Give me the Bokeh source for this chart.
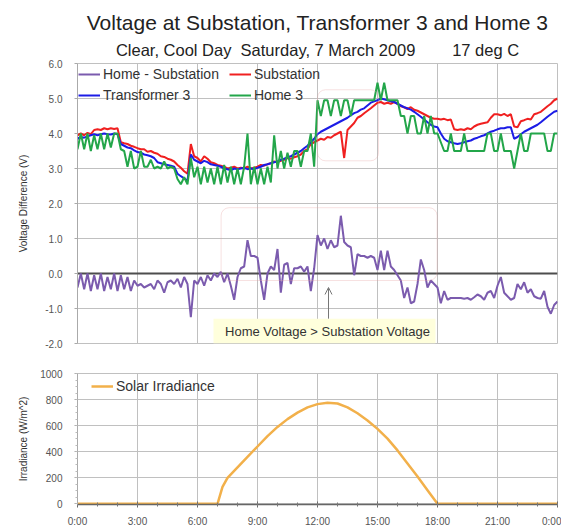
from bokeh.plotting import figure
from bokeh.layouts import column
from bokeh.models import (Range1d, FixedTicker, PrintfTickFormatter, Span, BoxAnnotation,
                          Label, Arrow, OpenHead, Legend, LegendItem, Title)
from bokeh.embed import file_html
from bokeh.resources import INLINE

# ---------------- data ----------------
title_text = "Voltage at Substation, Transformer 3 and Home 3"
subtitle_text = "Clear, Cool Day\u00a0\u00a0Saturday, 7 March 2009\u00a0\u00a0\u00a0\u00a0\u00a0\u00a0\u00a0\u00a017 deg C"

hours = [i / 6 for i in range(145)]  # 10-minute samples, 0:00 .. 24:00

substation = [
    3.95, 4.00, 3.95, 4.02, 3.98, 4.10,
    4.12, 4.10, 4.15, 4.12, 4.15, 4.13,
    4.15, 3.75, 3.72, 3.70, 3.65, 3.62,
    3.58, 3.55, 3.55, 3.48, 3.50, 3.45,
    3.42, 3.35, 3.33, 3.28, 3.25, 3.20,
    3.10, 3.02, 2.92, 2.85, 3.70, 3.35,
    3.30, 3.20, 3.35, 3.28, 3.18, 3.15,
    3.10, 3.08, 3.05, 3.00, 3.02, 3.05,
    3.00, 3.02, 3.00, 3.05, 3.00, 3.02,
    3.05, 3.10, 3.08, 3.12, 3.15, 3.20,
    3.18, 3.22, 3.25, 3.30, 3.28, 3.32,
    3.35, 3.40, 3.50, 3.55, 3.70, 3.75,
    3.80, 3.85, 3.82, 3.90, 3.88, 3.95,
    4.00, 4.05, 3.30, 4.10, 4.20, 4.30,
    4.45, 4.50, 4.58, 4.65, 4.72, 4.80,
    4.88, 4.90, 4.85, 4.88, 4.85, 4.90,
    4.85, 4.78, 4.75, 4.70, 4.75, 4.68,
    4.65, 4.60, 4.55, 4.50, 4.45, 4.42,
    4.42, 4.40, 4.42, 4.38, 4.40, 4.12,
    4.10, 4.12, 4.10, 4.15, 4.12, 4.20,
    4.25, 4.28, 4.30, 4.32, 4.45, 4.55,
    4.55, 4.52, 4.56, 4.50, 4.55, 4.20,
    4.18, 4.35, 4.38, 4.42, 4.40, 4.55,
    4.58, 4.62, 4.70, 4.78, 4.85, 4.95,
    5.00,
]

transformer3 = [
    3.85, 3.90, 3.88, 3.92, 3.95, 3.98,
    3.95, 3.98, 4.00, 3.98, 3.97, 4.00,
    3.98, 3.70, 3.65, 3.60, 3.58, 3.52,
    3.47, 3.45, 3.40, 3.38, 3.35, 3.30,
    3.18, 3.15, 3.12, 3.10, 3.08, 3.05,
    2.85, 2.78, 2.72, 2.65, 3.40, 3.25,
    3.20, 3.15, 3.22, 3.18, 3.12, 3.10,
    3.08, 3.05, 3.00, 2.98, 2.95, 3.00,
    2.98, 3.00, 3.02, 2.98, 3.00, 2.98,
    3.02, 3.05, 3.10, 3.12, 3.15, 3.18,
    3.20, 3.25, 3.28, 3.32, 3.35, 3.40,
    3.45, 3.50, 3.58, 3.65, 3.75, 3.85,
    3.98, 4.05, 4.10, 4.15, 4.20, 4.25,
    4.30, 4.35, 4.40, 4.45, 4.52, 4.58,
    4.62, 4.68, 4.72, 4.80, 4.88, 4.92,
    4.95, 5.00, 4.98, 4.95, 4.92, 4.90,
    4.85, 4.80, 4.75, 4.72, 4.68, 4.62,
    4.55, 4.48, 4.40, 4.32, 4.25, 4.20,
    4.18, 4.00, 3.85, 3.78, 3.75, 3.72,
    3.70, 3.72, 3.75, 3.78, 3.80, 3.85,
    3.88, 3.92, 3.95, 4.00, 4.05, 4.08,
    4.12, 4.15, 4.15, 4.18, 4.18, 3.85,
    3.90, 3.98, 4.05, 4.10, 4.15, 4.20,
    4.25, 4.32, 4.40, 4.48, 4.55, 4.62,
    4.65,
]

home3 = [
    3.55, 4.00, 3.55, 4.00, 3.50, 3.95,
    3.55, 4.00, 3.55, 4.00, 3.60, 4.00,
    4.00, 3.55, 3.50, 3.05, 3.50, 3.00,
    3.05, 3.50, 3.05, 3.05, 3.25, 3.00,
    3.05, 3.00, 3.20, 3.00, 3.05, 3.00,
    2.70, 2.55, 2.75, 2.55, 3.30, 2.75,
    3.05, 2.55, 3.05, 2.60, 3.00, 2.55,
    3.05, 2.55, 3.10, 2.60, 3.05, 2.55,
    3.00, 2.55, 3.05, 4.00, 2.55, 3.05,
    2.55, 3.00, 2.55, 3.05, 2.60, 3.95,
    3.00, 3.50, 3.00, 3.45, 3.05, 3.50,
    3.50, 3.05, 3.50, 3.50, 4.00, 3.05,
    4.95, 4.50, 4.95, 4.95, 4.50, 4.95,
    4.95, 4.50, 4.95, 4.95, 4.50, 4.95,
    4.95, 4.95, 4.95, 4.95, 4.95, 4.95,
    5.45, 4.95, 5.45, 4.95, 4.95, 4.95,
    4.95, 4.50, 4.50, 4.00, 4.50, 4.50,
    4.00, 4.00, 4.50, 4.00, 4.50, 4.00,
    4.00, 3.75, 3.50, 3.50, 4.00, 3.50,
    3.50, 3.50, 4.00, 3.50, 3.50, 3.50,
    3.50, 3.50, 3.50, 4.00, 4.00, 3.50,
    3.50, 4.00, 3.50, 3.50, 3.50, 3.00,
    3.50, 4.00, 3.50, 3.50, 4.00, 4.00,
    4.00, 4.00, 4.00, 3.50, 3.50, 4.00,
    4.00,
]

home_minus_sub = [
    -0.40, 0.00, -0.45, 0.00, -0.50, -0.05,
    -0.45, 0.00, -0.50, -0.10, -0.45, 0.00,
    -0.50, -0.05, -0.45, -0.10, -0.50, -0.20,
    -0.35, -0.30, -0.40, -0.35, -0.30, -0.45,
    -0.20, -0.30, -0.55, -0.25, -0.20, -0.30,
    -0.15, -0.40, -0.10, -0.30, -1.25, -0.20,
    -0.30, -0.10, -0.35, -0.05, -0.20, 0.00,
    -0.10, 0.05, -0.25, 0.00, -0.35, -0.75,
    -0.10, 0.15, 0.20, 0.95, 0.50, 0.50,
    0.45, -0.20, -0.75, 0.00, 0.20, 0.10,
    0.70, -0.55, 0.25, 0.30, -0.30, 0.15,
    0.15, 0.20, 0.05, 0.20, -0.50, 0.15,
    1.10, 0.80, 1.00, 0.70, 0.95, 0.75,
    0.80, 1.65, 0.90, 0.80, 0.75, -0.05,
    0.55, 0.50, 0.50, 0.45, 0.50, 0.45,
    0.10, 0.65, 0.10, 0.65, 0.20, 0.10,
    -0.05, -0.20, -0.70, -0.40, -0.85, -0.80,
    -0.30, 0.40, 0.10, -0.40, -0.20, -0.30,
    -0.40, -0.85, -0.50, -0.75, -0.70, -0.70,
    -0.70, -0.70, -0.72, -0.70, -0.75, -0.68,
    -0.60, -0.65, -0.75, -0.55, -0.50, -0.70,
    -0.35, -0.10, -0.55, -0.65, -0.75, -0.70,
    -0.30, -0.45, -0.25, -0.55, -0.45, -0.65,
    -0.70, -0.72, -0.50, -0.95, -1.15, -0.90,
    -0.80,
]

irr_hours = [0, 7.0, 7.25, 7.5, 8.0, 8.5, 9.0, 9.5, 10.0, 10.5, 11.0, 11.5, 12.0,
             12.5, 13.0, 13.5, 14.0, 14.5, 15.0, 15.5, 16.0, 16.5, 17.0, 17.5, 18.0, 24.0]
irradiance = [0, 0, 130, 200, 280, 360, 440, 520, 590, 650, 700, 740, 765,
              775, 770, 740, 695, 640, 575, 500, 410, 310, 210, 105, 0, 0]

tick_hours = [0, 3, 6, 9, 12, 15, 18, 21, 24]
tick_labels = ["0:00", "3:00", "6:00", "9:00", "12:00", "15:00", "18:00", "21:00", "0:00"]
volt_ticks = [-2, -1, 0, 1, 2, 3, 4, 5, 6]
irr_ticks = [0, 200, 400, 600, 800, 1000]

# ---------------- styling ----------------
FONT = "Liberation Sans"
PURPLE = "#7B5BAE"
RED = "#F02020"
BLUE = "#1C1CE6"
GREEN = "#23A64A"
ORANGE = "#F2B04A"
GRID = "#C0C0C0"
TXT = "#333333"

x_range = Range1d(0, 24)

top = figure(width=561, height=350, x_range=x_range, y_range=Range1d(-2, 6),
             output_backend="svg", toolbar_location=None, title_location=None,
             min_border_left=77, min_border_right=4, min_border_top=63, min_border_bottom=7)

top.add_layout(Title(text=subtitle_text, align="center", text_font=FONT, text_font_size="16.5px",
                     text_font_style="normal", text_color="#222222", standoff=9), "above")
top.add_layout(Title(text=title_text, align="center", text_font=FONT, text_font_size="21px",
                     text_font_style="normal", text_color="#222222", standoff=1), "above")

top.xaxis.visible = False
top.xgrid.ticker = FixedTicker(ticks=tick_hours)
top.yaxis.ticker = FixedTicker(ticks=volt_ticks)
top.yaxis.formatter = PrintfTickFormatter(format="%.1f")
top.yaxis.axis_label = "Voltage Difference (V)"

bot = figure(width=561, height=179, x_range=x_range, y_range=Range1d(-5, 1000),
             output_backend="svg", toolbar_location=None,
             min_border_left=77, min_border_right=4, min_border_top=23, min_border_bottom=25)
bot.xaxis.ticker = FixedTicker(ticks=tick_hours, minor_ticks=list(range(25)))
bot.xaxis.major_label_overrides = {h: lab for h, lab in zip(tick_hours, tick_labels)}
bot.xgrid.ticker = FixedTicker(ticks=tick_hours)
bot.yaxis.ticker = FixedTicker(ticks=irr_ticks, minor_ticks=list(range(0, 1001, 50)))
bot.yaxis.axis_label = "Irradiance (W/m^2)"

for p in (top, bot):
    p.outline_line_color = GRID
    p.xgrid.grid_line_color = GRID
    p.ygrid.grid_line_color = GRID
    p.background_fill_color = "white"
    p.border_fill_color = "white"
    for ax in p.axis:
        ax.major_label_text_font = FONT
        ax.major_label_text_font_size = "10px"
        ax.major_label_text_color = "#555555"
        ax.axis_label_text_font = FONT
        ax.axis_label_text_font_size = "10px"
        ax.axis_label_text_font_style = "normal"
        ax.axis_label_text_color = TXT
    p.yaxis.axis_line_color = "#AAAAAA"
    p.yaxis.major_tick_line_color = "#AAAAAA"
    p.yaxis.major_tick_out = 3
    p.yaxis.major_tick_in = 0
    p.yaxis.minor_tick_line_color = "#BBBBBB"
    p.yaxis.minor_tick_out = 2
    p.yaxis.minor_tick_in = 0
    p.yaxis.major_label_standoff = 12

top.yaxis.axis_label_standoff = 13
bot.yaxis.axis_label_standoff = 8

bot.xaxis.axis_line_color = "#666666"
bot.xaxis.axis_line_width = 1.5
bot.xaxis.major_tick_line_color = "#666666"
bot.xaxis.major_tick_in = 3
bot.xaxis.major_tick_out = 3
bot.xaxis.minor_tick_line_color = "#777777"
bot.xaxis.minor_tick_in = 2
bot.xaxis.minor_tick_out = 2
bot.xaxis.major_label_standoff = 8

# zero line in the top chart
zero = Span(location=0, dimension="width", line_color="#4D4D4D", line_width=2, level="underlay")
top.add_layout(zero)

# series
r_diff = top.line(hours, home_minus_sub, line_color=PURPLE, line_width=2)
r_sub = top.line(hours, substation, line_color=RED, line_width=2)
r_tr = top.line(hours, transformer3, line_color=BLUE, line_width=2)
r_home = top.line(hours, home3, line_color=GREEN, line_width=2)

# annotation boxes
top.add_layout(BoxAnnotation(left=12.0, right=15.05, top=5.25, bottom=3.22, fill_alpha=0,
                             line_color="#E39A9A", line_width=1, border_radius=8))
top.add_layout(BoxAnnotation(left=7.18, right=17.98, top=1.88, bottom=-0.2, fill_alpha=0,
                             line_color="#E39A9A", line_width=1, border_radius=8))
top.add_layout(BoxAnnotation(left=6.8, right=17.9, top=-1.29, bottom=-2.0, fill_color="#FFFFDC",
                             fill_alpha=1, line_alpha=0))
top.add_layout(Label(x=12.5, y=-1.66, text="Home Voltage > Substation Voltage",
                     text_align="center", text_baseline="middle", text_font=FONT,
                     text_font_size="13px", text_color=TXT))
top.add_layout(Arrow(end=OpenHead(size=7, line_color="#777777", line_width=1),
                     x_start=12.55, y_start=-1.29, x_end=12.55, y_end=-0.4,
                     line_color="#777777", line_width=1))

leg_top = Legend(items=[LegendItem(label="Home - Substation", renderers=[r_diff]),
                        LegendItem(label="Substation", renderers=[r_sub]),
                        LegendItem(label="Transformer 3", renderers=[r_tr]),
                        LegendItem(label="Home 3", renderers=[r_home])],
                 location=(1, 239), orientation="horizontal", ncols=2,
                 margin=0, padding=0, spacing=3, label_standoff=3,
                 glyph_width=22, glyph_height=18, label_height=18, label_width=123,
                 label_text_font=FONT, label_text_font_size="14px", label_text_color=TXT,
                 background_fill_alpha=0, border_line_alpha=0)
top.add_layout(leg_top)

# irradiance
r_irr = bot.line(irr_hours, irradiance, line_color=ORANGE, line_width=2.5)
leg_bot = Legend(items=[LegendItem(label="Solar Irradiance", renderers=[r_irr])],
                 location=(14, 109), margin=0, padding=0, label_standoff=3,
                 glyph_width=22, glyph_height=18, label_height=18,
                 label_text_font=FONT, label_text_font_size="14px", label_text_color=TXT,
                 background_fill_alpha=0, border_line_alpha=0)
bot.add_layout(leg_bot)

layout = column(top, bot)
open("out.html", "w").write(file_html(layout, INLINE))
